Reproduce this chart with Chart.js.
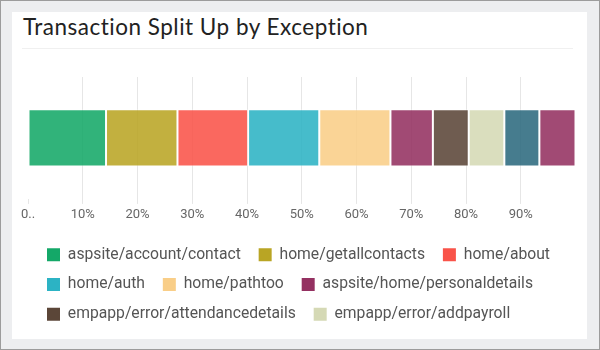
<!DOCTYPE html>
<html lang="en">
  <head>
    <meta charset="UTF-8" />
    <title>Transaction Split Up by Exception</title>
    <script src="https://cdn.jsdelivr.net/npm/chart.js"></script>
    <style>
      body { margin: 0; }
      #frame {
        position: relative;
        width: 600px;
        height: 350px;
        box-sizing: border-box;
        border: 1px solid #9c9c9c;
        background: #edeef0;
      }
      #panel {
        position: absolute;
        left: 11px;
        top: 11px;
        width: 575px;
        height: 327px;
        background: #fff;
      }
      #panel h1 {
        position: absolute;
        left: 11px;
        top: 2px;
        margin: 0;
        font: 400 22.5px/26.4px "Lato", sans-serif;
        letter-spacing: 0.5px;
        color: #222;
        white-space: nowrap;
      }
      #panel .rule {
        position: absolute;
        left: 10px;
        top: 36px;
        width: 551px;
        height: 1px;
        background: #f0f0f0;
      }
      #panel canvas {
        position: absolute;
        left: 0;
        top: 48px;
      }
    </style>
  </head>
  <body>
    <div id="frame">
      <div id="panel">
        <h1>Transaction Split Up by Exception</h1>
        <div class="rule"></div>
        <canvas id="splitChart" width="575" height="279"></canvas>
      </div>
    </div>

    <script>
      // exception name -> share of transactions (%)
      const exceptions = [
        "aspsite/account/contact",
        "home/getallcontacts",
        "home/about",
        "home/auth",
        "home/pathtoo",
        "aspsite/home/personaldetails",
        "empapp/error/attendancedetails",
        "empapp/error/addpayroll",
        "other exception 1",
        "other exception 2",
      ];
      const shares = [14.25, 13.05, 12.9, 13.0, 13.0, 7.75, 6.55, 6.5, 6.4, 6.6];
      const colors = [
        "#14a868",
        "#b9a524",
        "#f95349",
        "#2cb3c4",
        "#f9ce88",
        "#943161",
        "#5b4638",
        "#d5d9b5",
        "#2c6a7e",
        "#943161",
      ];
      const legendCount = 8; // only the first 8 fit in the legend

      const tickValues = [0, 10, 20, 30, 40, 50, 60, 70, 80, 90, 100];
      const tickText = ["0..", "10%", "20%", "30%", "40%", "50%", "60%", "70%", "80%", "90%", ""];

      Chart.defaults.font.family = "Roboto";

      // push legend a bit right of the plot's left edge
      const nudgeLegend = {
        id: "nudgeLegend",
        afterLayout(chart) {
          chart.legend.left += 5;
          chart.legend.right += 5;
        },
      };

      new Chart(document.getElementById("splitChart"), {
        type: "bar",
        data: {
          labels: ["Exceptions"],
          datasets: exceptions.map((name, i) => ({
            label: name,
            data: [shares[i]],
            backgroundColor: colors[i] + "e0",
            borderColor: "rgba(255,255,255,0.45)",
            borderWidth: 1,
            borderSkipped: false,
            categoryPercentage: 1,
            barPercentage: 0.47,
          })),
        },
        options: {
          indexAxis: "y",
          responsive: false,
          animation: false,
          layout: { padding: { left: 16, right: 11.5, top: 17, bottom: 7 } },
          scales: {
            x: {
              stacked: true,
              min: 0,
              max: 100,
              border: { display: false },
              ticks: {
                stepSize: 10,
                autoSkip: false,
                maxRotation: 0,
                padding: 3,
                color: "#666",
                font: { size: 13 },
                callback: (v) => tickText[tickValues.indexOf(v)],
              },
              grid: {
                tickLength: 5,
                color: (c) => (c.tick && c.tick.value > 0 && c.tick.value < 100 ? "#e6e6e6" : "rgba(0,0,0,0)"),
                tickColor: (c) => (c.tick && c.tick.value < 100 ? "#e6e6e6" : "rgba(0,0,0,0)"),
              },
              afterFit: (scale) => {
                scale.height += 7.4;
              },
            },
            y: { stacked: true, display: false },
          },
          plugins: {
            tooltip: { enabled: false },
            legend: {
              position: "bottom",
              align: "start",
              labels: {
                boxWidth: 13,
                boxHeight: 13,
                padding: 14,
                color: "#555",
                font: { size: 15.7 },
                generateLabels: (chart) =>
                  chart.data.datasets.slice(0, legendCount).map((ds, i) => ({
                    text: ds.label + " ",
                    fillStyle: colors[i],
                    strokeStyle: colors[i],
                    lineWidth: 0,
                    fontColor: "#555",
                    hidden: false,
                    datasetIndex: i,
                  })),
              },
            },
          },
        },
        plugins: [nudgeLegend],
      });
    </script>
  </body>
</html>
